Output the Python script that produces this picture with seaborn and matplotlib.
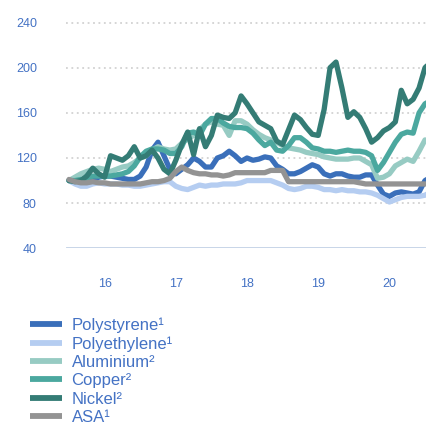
import pandas as pd
import matplotlib
matplotlib.use("Agg")
import matplotlib.pyplot as plt
import seaborn as sns
import numpy as np

# ------------------------------
# 1. Data (monthly index, Jul 2015 = 100)
# ------------------------------
start_year = 15.5
polystyrene = [100, 99, 98, 97, 100, 103, 104, 104, 103, 102,
               101, 101, 104, 112, 127, 134, 122, 110, 106, 110,
               114, 120, 117, 112, 112, 120, 122, 126, 122, 117,
               120, 118, 119, 121, 120, 113, 110, 106, 106, 108,
               111, 114, 112, 106, 104, 106, 106, 104, 103, 103,
               105, 105, 96, 88, 86, 89, 90, 89, 88, 90,
               100, 103]
polyethylene = [100, 97, 95, 95, 97, 98, 97, 97, 97, 96,
                96, 95, 95, 96, 97, 98, 99, 99, 95, 93,
                92, 94, 96, 95, 96, 96, 97, 97, 97, 98,
                100, 100, 100, 100, 100, 98, 96, 93, 92, 93,
                95, 95, 94, 92, 92, 91, 92, 91, 91, 90,
                90, 89, 87, 84, 81, 83, 85, 86, 86, 86,
                87, 90]
aluminium = [100, 103, 106, 108, 110, 111, 110, 108, 110, 112,
             113, 116, 120, 122, 127, 130, 128, 127, 128, 133,
             137, 140, 145, 150, 152, 150, 149, 140, 153, 153,
             150, 145, 141, 138, 136, 134, 131, 129, 128, 127,
             125, 124, 123, 121, 120, 119, 119, 119, 120, 120,
             117, 114, 102, 103, 106, 113, 116, 119, 117, 126,
             136, 135]
copper = [100, 100, 101, 102, 104, 104, 104, 104, 105, 106,
          108, 113, 121, 126, 128, 128, 127, 124, 124, 130,
          142, 143, 140, 150, 155, 155, 151, 148, 147, 147,
          146, 142, 136, 131, 134, 127, 126, 131, 138, 138,
          134, 129, 128, 126, 126, 125, 126, 127, 126, 126,
          125, 122, 109, 116, 125, 134, 141, 143, 142, 160,
          168, 171]
nickel = [100, 99, 100, 104, 111, 106, 103, 122, 120, 118,
          122, 130, 120, 122, 127, 120, 110, 106, 118, 132,
          143, 123, 146, 130, 140, 158, 156, 155, 160, 175,
          168, 160, 152, 149, 146, 135, 132, 145, 158, 154,
          147, 141, 140, 163, 200, 205, 182, 156, 161, 156,
          146, 134, 138, 144, 147, 152, 180, 168, 172, 182,
          200, 205]
asa = [101, 99, 98, 98, 99, 98, 98, 97, 97, 97,
       97, 97, 97, 98, 99, 99, 100, 102, 108, 112,
       109, 107, 106, 106, 105, 105, 104, 105, 107, 107,
       107, 107, 107, 107, 109, 109, 109, 99, 99, 99,
       99, 99, 99, 99, 99, 99, 99, 99, 99, 98,
       97, 97, 97, 97, 97, 97, 97, 97, 97, 97,
       97, 97]

series_names = ["Polystyrene\u00b9", "Polyethylene\u00b9", "Aluminium\u00b2",
                "Copper\u00b2", "Nickel\u00b2", "ASA\u00b9"]
series_values = [polystyrene, polyethylene, aluminium, copper, nickel, asa]
colors = ["#3a6fba", "#b5cdf1", "#97cbc3", "#4ba89f", "#347c75", "#939393"]

year_ticks = [16, 17, 18, 19, 20]
y_ticks = [40, 80, 120, 160, 200, 240]

rows = []
for name, vals in zip(series_names, series_values):
    for m, v in enumerate(vals):
        rows.append({"Year": start_year + m / 12, "Index": v, "Series": name})
df = pd.DataFrame(rows)

# ------------------------------
# 2. Plot
# ------------------------------
sns.set_style("white")
plt.rcParams['font.family'] = ['Liberation Sans', 'DejaVu Sans']
text_blue = "#4472c4"

fig = plt.figure(figsize=(4.27, 4.33), dpi=100)
ax = fig.add_axes([0.1546, 0.4266, 0.8454, 0.5369])

# dotted grid, solid baseline at 40
for y in y_ticks[1:]:
    ax.axhline(y, color="#d2d2d2", lw=1.3, ls=(0, (1, 2)), zorder=0)
ax.axhline(40, color="#c3d2e6", lw=2, zorder=0)

sns.lineplot(data=df, x="Year", y="Index", hue="Series", hue_order=series_names,
             palette=colors, linewidth=3.8, legend=False, ax=ax,
             solid_capstyle="round", solid_joinstyle="round")

ax.set_xlim(15.458, 20.528)
ax.set_ylim(40, 246)
ax.set_xticks(year_ticks)
ax.set_yticks(y_ticks)
ax.set_xlabel("")
ax.set_ylabel("")
ax.tick_params(axis="both", length=0, labelsize=9, labelcolor=text_blue)
ax.tick_params(axis="y", pad=21)
ax.tick_params(axis="x", pad=21.5)
for s in ax.spines.values():
    s.set_visible(False)

# legend below the chart
handles = [plt.Line2D([], [], color=c, lw=4.2, solid_capstyle="butt") for c in colors]
fig.legend(handles, series_names, loc="upper left", bbox_to_anchor=(0.07, 0.2674),
           frameon=False, fontsize=12, labelcolor=text_blue, handlelength=1.9,
           handletextpad=0.6, labelspacing=0.2, borderpad=0, borderaxespad=0)

fig.savefig("out.png", dpi=100)
